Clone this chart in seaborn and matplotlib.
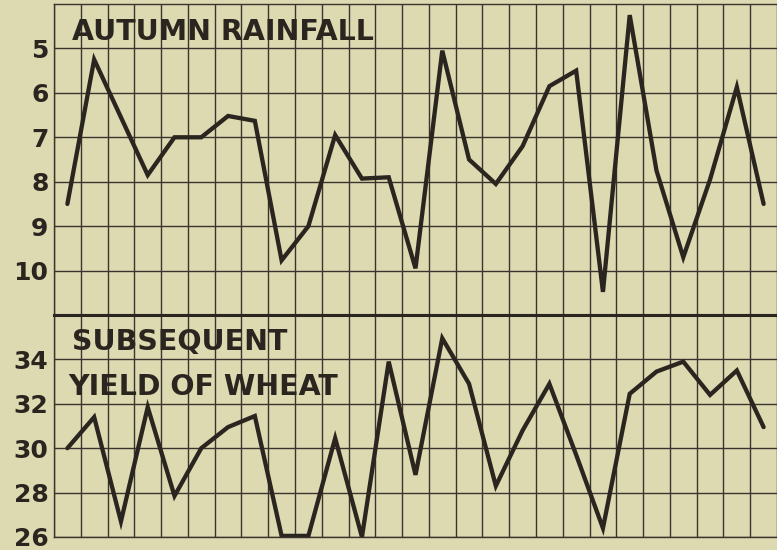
import numpy as np
import pandas as pd
import matplotlib
matplotlib.use("Agg")
import matplotlib.pyplot as plt
import seaborn as sns

# one value per season
seasons = list(range(27))
rainfall = [8.5, 5.25, 6.55, 7.85, 7.0, 7.0, 6.52, 6.63, 9.77, 9.0,
            6.95, 7.93, 7.9, 9.95, 5.05, 7.5, 8.05, 7.2, 5.85, 5.5,
            10.48, 4.25, 7.75, 9.7, 7.95, 5.87, 8.5]
wheat = [30.0, 31.4, 26.7, 31.85, 27.85, 30.0, 30.95, 31.45, 26.05, 26.05,
         30.45, 26.0, 33.9, 28.8, 34.95, 32.9, 28.3, 30.8, 32.9, 29.7,
         26.4, 32.45, 33.45, 33.9, 32.4, 33.5, 30.95]
rain_ticks = [5, 6, 7, 8, 9, 10]
wheat_ticks = [26, 28, 30, 32, 34]

df = pd.DataFrame({"season": seasons, "rainfall": rainfall, "wheat": wheat})

bg = "#DDD9B1"
ink = "#2B2520"
grid_ink = "#3A342E"

sns.set_theme(style="white", rc={"axes.facecolor": bg, "figure.facecolor": bg})
plt.rcParams["font.family"] = ["DejaVu Sans"]

fig = plt.figure(figsize=(7.77, 5.5), dpi=100)
left = 54 / 777
ax1 = fig.add_axes([left, 1 - 315 / 550, 1 - left, (315 - 4) / 550])
ax2 = fig.add_axes([left, 1 - 537 / 550, 1 - left, (537 - 315) / 550])

sns.lineplot(data=df, x="season", y="rainfall", ax=ax1, color=ink, lw=3.1,
             clip_on=False, solid_joinstyle="miter")
sns.lineplot(data=df, x="season", y="wheat", ax=ax2, color=ink, lw=3.1,
             clip_on=False, solid_joinstyle="miter")


def paper(ax, ticks):
    ax.set_xlim(-0.5, len(seasons) - 0.5)
    ax.set_xticks(np.arange(-0.5, len(seasons), 1))
    ax.set_xticklabels([])
    ax.set_yticks(ticks)
    ax.set_yticklabels([str(t) for t in ticks], fontsize=18, fontweight="bold", color=ink)
    ax.tick_params(length=0, pad=4)
    ax.grid(True, color=grid_ink, lw=1.0)
    ax.set_axisbelow(True)
    ax.set_xlabel("")
    ax.set_ylabel("")
    ax.spines["right"].set_visible(False)
    for s in ["top", "left", "bottom"]:
        ax.spines[s].set_color(grid_ink)
        ax.spines[s].set_linewidth(1.0)


paper(ax1, rain_ticks)
ax1.set_ylim(11, 4)
ax1.spines["bottom"].set_linewidth(2.2)
ax1.spines["bottom"].set_color(ink)

paper(ax2, wheat_ticks)
ax2.set_ylim(26, 36)
ax2.spines["top"].set_linewidth(2.2)
ax2.spines["top"].set_color(ink)

ax1.text(0.17, 4.81, "AUTUMN RAINFALL", fontsize=20.5, fontweight="bold", color=ink, va="baseline")
ax2.text(0.17, 34.42, "SUBSEQUENT", fontsize=20.5, fontweight="bold", color=ink, va="baseline")
ax2.text(0.02, 32.4, "YIELD OF WHEAT", fontsize=20.5, fontweight="bold", color=ink, va="baseline")

fig.savefig("out.png", dpi=100, facecolor=bg)
